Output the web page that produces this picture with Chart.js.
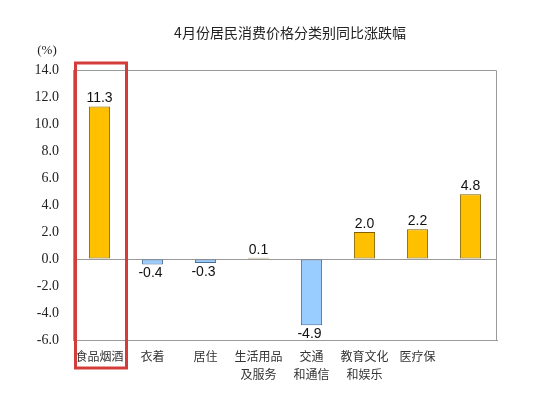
<!DOCTYPE html>
<html>
<head>
<meta charset="utf-8">
<script src="https://cdn.jsdelivr.net/npm/chart.js@4"></script>
<style>
  html, body { margin: 0; padding: 0; background: #fff; }
  #wrap { width: 533px; height: 396px; position: relative; }
</style>
</head>
<body>
<div id="wrap"><canvas id="cpiChart"></canvas></div>
<script>
// data
const categories = ["食品烟酒", "衣着", "居住", ["生活用品", "及服务"], ["交通", "和通信"], ["教育文化", "和娱乐"], "医疗保", ""];
const changes = [11.3, -0.4, -0.3, 0.1, -4.9, 2.0, 2.2, 4.8];
const yTicks = [14, 12, 10, 8, 6, 4, 2, 0, -2, -4, -6];
const chartTitle = "4月份居民消费价格分类别同比涨跌幅";
const unitLabel = "(%)";

const upColor = "#FFC000";
const upBorder = "#7F6000";
const downColor = "#99CCFF";
const downBorder = "#4A6E96";

// title, unit, frame, value labels and the red box
const decorations = {
  id: "decorations",
  afterDatasetsDraw(chart) {
    const ctx = chart.ctx;
    const area = chart.chartArea;
    const xs = chart.scales.x;
    const meta = chart.getDatasetMeta(0);

    ctx.save();
    ctx.fillStyle = "#222";
    ctx.font = "14px 'Noto Sans CJK SC'";
    ctx.textAlign = "center";
    ctx.textBaseline = "middle";
    ctx.fillText(chartTitle, (area.left + area.right) / 2 + 5, 33);

    ctx.font = "13px 'Liberation Serif'";
    ctx.fillText(unitLabel, 47, 51);

    // top and right edge of the plot frame
    ctx.strokeStyle = "#9a9a9a";
    ctx.lineWidth = 1;
    ctx.beginPath();
    ctx.moveTo(area.left, area.top + 0.5);
    ctx.lineTo(area.right - 0.5, area.top + 0.5);
    ctx.lineTo(area.right - 0.5, area.bottom);
    ctx.stroke();

    // value labels
    ctx.fillStyle = "#111";
    ctx.font = "14px 'Liberation Sans'";
    meta.data.forEach((bar, i) => {
      const v = changes[i];
      if (v >= 0) {
        ctx.textBaseline = "bottom";
        ctx.fillText(v.toFixed(1), bar.x, bar.y - 1);
      } else {
        ctx.textBaseline = "top";
        ctx.fillText(v.toFixed(1), bar.x - 2, bar.y + 2);
      }
    });

    // red highlight round the first category
    const cx = xs.getPixelForValue(0);
    ctx.strokeStyle = "#D43C3C";
    ctx.lineWidth = 3;
    ctx.strokeRect(cx - 24, area.top - 7, 51, area.bottom - area.top + 35);
    ctx.restore();
  }
};

new Chart(document.getElementById("cpiChart"), {
  type: "bar",
  data: {
    labels: categories,
    datasets: [{
      data: changes,
      backgroundColor: changes.map(v => v >= 0 ? upColor : downColor),
      borderColor: changes.map(v => v >= 0 ? upBorder : downBorder),
      borderWidth: 1,
      borderSkipped: false,
      barPercentage: 0.4,
      categoryPercentage: 1.0
    }]
  },
  options: {
    responsive: true,
    maintainAspectRatio: false,
    animation: false,
    layout: { padding: { left: 0, right: 36, top: 70, bottom: 0 } },
    plugins: {
      legend: { display: false },
      tooltip: { enabled: false },
      title: { display: false }
    },
    scales: {
      x: {
        grid: { display: false, drawTicks: false },
        border: { display: true, color: "#9a9a9a" },
        ticks: {
          padding: 8,
          maxRotation: 0,
          autoSkip: false,
          color: "#333",
          font: { family: "Noto Sans CJK SC", size: 12, lineHeight: 1.45 }
        },
        afterFit(scale) { scale.height = 56; }
      },
      y: {
        min: -6,
        max: 14,
        afterBuildTicks(scale) { scale.ticks = yTicks.map(v => ({ value: v })); },
        grid: {
          drawTicks: false,
          color: ctx => ctx.tick && ctx.tick.value === 0 ? "#9a9a9a" : "rgba(0,0,0,0)"
        },
        border: { display: true, color: "#9a9a9a" },
        ticks: {
          padding: 14,
          color: "#222",
          font: { family: "Liberation Serif", size: 14 },
          callback: v => v.toFixed(1)
        },
        afterFit(scale) { scale.width = 73; }
      }
    }
  },
  plugins: [decorations]
});
</script>
</body>
</html>
